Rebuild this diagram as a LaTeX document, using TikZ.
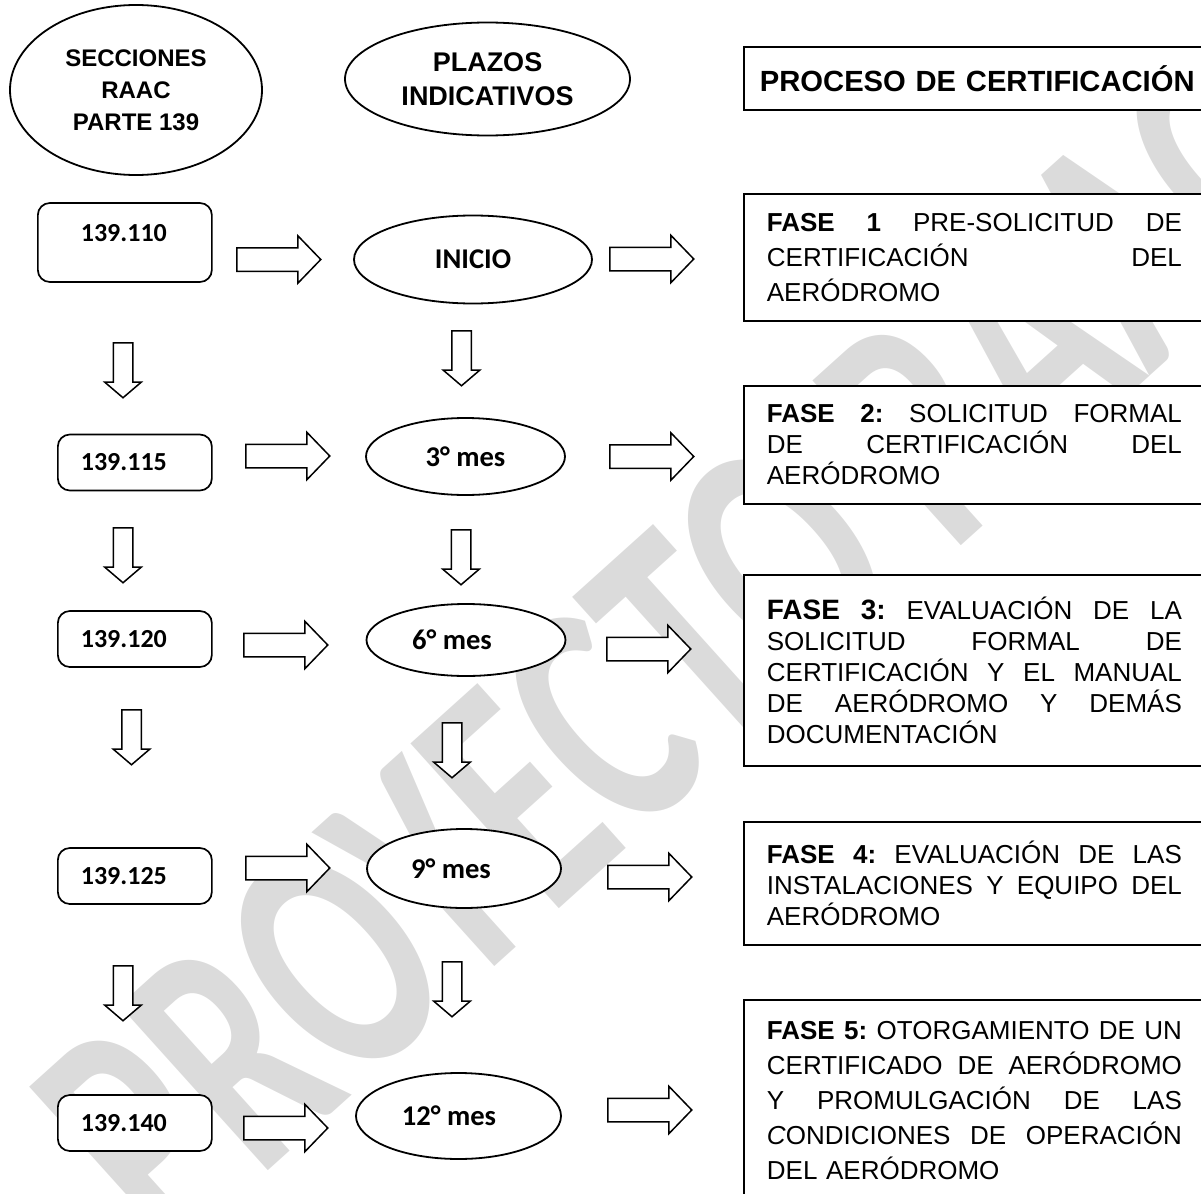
\documentclass[tikz,border=0pt]{standalone}
\usepackage{fontspec}
\setmainfont{Liberation Sans}
\newfontfamily\calibri{Carlito}
\usetikzlibrary{shapes.geometric,shapes.arrows}

\newlength{\fasew}
\setlength{\fasew}{207.5pt}
\newcommand{\jl}[1]{\leavevmode\hbox to \fasew{\spaceskip=.28em plus 1fil\xspaceskip=.28em plus 1fil #1}}

\tikzstyle{titulo} = [draw, fill=white, line width=0.9pt, ellipse, inner sep=0pt,
    align=center, font=\bfseries\fontsize{12}{16}\selectfont]
\tikzstyle{secbox} = [draw, fill=white, line width=0.85pt, rectangle, rounded corners=6pt,
    anchor=west, text width=54pt, inner xsep=11.5pt, inner ysep=0pt, minimum height=28pt,
    align=left, font=\calibri\bfseries\fontsize{13}{15}\selectfont]
\tikzstyle{plazo} = [draw, fill=white, line width=0.9pt, ellipse, inner sep=0pt,
    font=\calibri\bfseries\fontsize{14.3}{17}\selectfont]
\tikzstyle{fase} = [draw, fill=white, line width=0.9pt, rectangle, anchor=west,
    text width=\fasew, inner xsep=11.5pt, inner ysep=0pt, align=left,
    font=\fontsize{13}{15.5}\selectfont]
\tikzstyle{flecha} = [single arrow, draw, fill=white, line width=0.75pt, inner xsep=0pt,
    inner ysep=5.5pt, single arrow head extend=6pt, single arrow tip angle=92,
    minimum height=42pt, anchor=west]
\tikzstyle{flechabaja} = [single arrow, draw, fill=white, line width=0.75pt, inner xsep=0pt,
    inner ysep=4.5pt, single arrow head extend=4.25pt, single arrow tip angle=99,
    minimum height=27.5pt, rotate=-90, anchor=west]

\begin{document}
\begin{tikzpicture}[x=0.5pt, y=-0.5pt]
\useasboundingbox (0,0) rectangle (1201,1194);
\clip (0,0) rectangle (1201,1194);

\node [rotate=42, yscale=1.5, transform shape, text=black!14,
    font=\calibri\bfseries\fontsize{114}{114}\selectfont] (marca) at (680,650) {PROYECTO RAAC};

\node [titulo, minimum width=126pt, minimum height=85pt] (secc) at (136,90)
    {SECCIONES\\RAAC\\PARTE 139};
\node [titulo, minimum width=142.5pt, minimum height=56.5pt,
    font=\bfseries\fontsize{13.5}{17}\selectfont] (plazos) at (487.5,79)
    {PLAZOS\\INDICATIVOS};
\node [fase, text width=220pt, inner xsep=8pt, minimum height=31.5pt,
    font=\bfseries\fontsize{14.6}{17}\selectfont] (proc) at (743,78.5)
    {PROCESO DE CERTIFICACIÓN};

\node [secbox, text width=64pt, text height=19.25pt, text depth=20.25pt] (s110) at (37,242.5)
    {\hspace*{10pt}139.110};
\node [secbox] (s115) at (57,462.5) {139.115};
\node [secbox] (s120) at (57,639) {139.120};
\node [secbox] (s125) at (57,876) {139.125};
\node [secbox] (s140) at (57,1123) {139.140};

\node [plazo, minimum width=119pt, minimum height=44pt] (inicio) at (473,259.5) {INICIO};
\node [plazo, minimum width=99.5pt, minimum height=38.5pt] (m3) at (465.5,456.5) {3° mes};
\node [plazo, minimum width=99.5pt, minimum height=36pt] (m6) at (466,640) {\hspace*{-14pt}6° mes};
\node [plazo, minimum width=97pt, minimum height=39.5pt] (m9) at (464,868.5) {\hspace*{-13pt}9° mes};
\node [plazo, minimum width=102.5pt, minimum height=43pt] (m12) at (458.5,1116) {\hspace*{-9.5pt}12° mes};

\node [fase, minimum height=63.5pt, font=\fontsize{13}{17.5}\selectfont] (f1) at (743,257.5)
    {\jl{\textbf{FASE 1} PRE-SOLICITUD DE}\\
     \jl{CERTIFICACIÓN DEL}\\
     AERÓDROMO};
\node [fase, minimum height=59pt] (f2) at (743,445)
    {\jl{\textbf{FASE 2:} SOLICITUD FORMAL}\\
     \jl{DE CERTIFICACIÓN DEL}\\
     AERÓDROMO};
\node [fase, minimum height=95.5pt] (f3) at (743,670.5)
    {\jl{{\fontsize{14}{15.5}\selectfont\bfseries FASE 3:} EVALUACIÓN DE LA}\\
     \jl{SOLICITUD FORMAL DE}\\
     \jl{CERTIFICACIÓN Y EL MANUAL}\\
     \jl{DE AERÓDROMO Y DEMÁS}\\
     DOCUMENTACIÓN};
\node [fase, minimum height=61.5pt] (f4) at (743,883.5)
    {\jl{\textbf{FASE 4:} EVALUACIÓN DE LAS}\\
     \jl{INSTALACIONES Y EQUIPO DEL}\\
     AERÓDROMO};
\node [fase, minimum height=101pt, font=\fontsize{13}{17.5}\selectfont] (f5) at (743,1101)
    {\jl{\textbf{FASE 5:} OTORGAMIENTO DE UN}\\
     \jl{CERTIFICADO DE AERÓDROMO}\\
     \jl{Y PROMULGACIÓN DE LAS}\\
     \jl{\textit{C}ONDICIONES DE OPERACIÓN}\\
     DEL AERÓDROMO};

\node [flecha] (fa1) at (236,259.5) {};
\node [flecha] (fa2) at (245,456) {};
\node [flecha] (fa3) at (243,645) {};
\node [flecha] (fa4) at (245,868) {};
\node [flecha] (fa5) at (243,1128) {};

\node [flecha] (fb1) at (609,259) {};
\node [flecha] (fb2) at (609,456.5) {};
\node [flecha] (fb3) at (606,649) {};
\node [flecha] (fb4) at (607,877) {};
\node [flecha] (fb5) at (607,1110) {};

\node [flechabaja] (ba1) at (123,342) {};
\node [flechabaja] (ba2) at (123,527) {};
\node [flechabaja] (ba3) at (131.5,709) {};
\node [flechabaja] (ba4) at (123,965) {};

\node [flechabaja] (bb1) at (461.5,330) {};
\node [flechabaja] (bb2) at (461,529) {};
\node [flechabaja] (bb3) at (452,722) {};
\node [flechabaja] (bb4) at (452,961) {};
\end{tikzpicture}
\end{document}
